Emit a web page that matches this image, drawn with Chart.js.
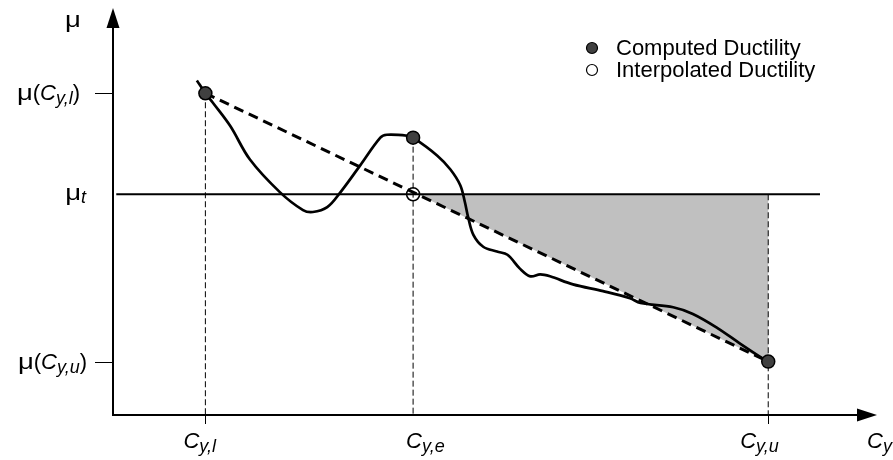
<!DOCTYPE html>
<html>
<head>
<meta charset="utf-8">
<script src="https://cdn.jsdelivr.net/npm/chart.js@4.4.1/dist/chart.umd.min.js"></script>
<style>
  html, body { margin: 0; padding: 0; background: #fff; }
</style>
</head>
<body>
<canvas id="chart" width="893" height="460"></canvas>
<script>
// key abscissas (yield strength) and ordinates (ductility)
const cyL = 1.41, cyE = 4.58, cyU = 10;
const muL = 10, muE = 8.62, muT = 6.86, muU = 1.66;

// ductility curve
const curveX = [1.28, 1.41, 1.53, 1.79, 2.09, 2.55, 2.90, 3.05, 3.27, 3.47, 3.77, 4.08, 4.18, 4.49, 4.58,
    4.95, 5.15, 5.30, 5.37, 5.42, 5.50, 5.65, 5.86, 6.02, 6.21, 6.37, 6.52, 6.67, 7.02, 7.48, 7.89,
    8.05, 8.55, 8.85, 9.22, 9.57, 9.92, 10];
const curveY = [10.40, 10.0, 9.69, 8.98, 7.94, 6.92, 6.37, 6.31, 6.46, 6.92, 7.75, 8.62, 8.71, 8.68, 8.62,
    8.06, 7.63, 7.14, 6.62, 6.15, 5.60, 5.23, 5.08, 4.98, 4.55, 4.31, 4.37, 4.31, 4.06, 3.85, 3.63,
    3.48, 3.35, 3.14, 2.71, 2.22, 1.75, muU];

const computedX = [cyL, cyE, cyU];
const computedY = [muL, muE, muU];
const targetStart = 0.05, targetEnd = 10.79;

const pts = (xs, ys) => xs.map((x, i) => ({ x: x, y: ys[i] }));

// where the dashed chord meets the target ductility
const slope = (muU - muL) / (cyU - cyL);
const xCross = cyL + (muT - muL) / slope;

const FONT = '"Liberation Sans", Arial, sans-serif';
const font = (size, italic) => (italic ? 'italic ' : '') + size + 'px ' + FONT;

// parts: [text, italic, size, dy, scaleX]
function drawRich(ctx, parts, x, y, align) {
    const widths = parts.map(p => {
        ctx.font = font(p[2], p[1]);
        return ctx.measureText(p[0]).width * (p[4] || 1);
    });
    const w = widths.reduce((a, b) => a + b, 0);
    let cx = align === 'right' ? x - w : x;
    parts.forEach((p, i) => {
        ctx.font = font(p[2], p[1]);
        ctx.save();
        ctx.translate(cx, y + (p[3] || 0));
        ctx.scale(p[4] || 1, 1);
        ctx.fillText(p[0], 0, 0);
        ctx.restore();
        cx += widths[i];
    });
}

const MU = ['μ', false, 22, 0, 1.25];

const axesPlugin = {
    id: 'sketchAxes',
    afterDraw(chart) {
        const ctx = chart.ctx;
        const xs = chart.scales.x, ys = chart.scales.y;
        const ox = chart.chartArea.left, oy = chart.chartArea.bottom;
        const top = chart.chartArea.top, right = chart.chartArea.right;
        ctx.save();
        ctx.strokeStyle = '#000';
        ctx.fillStyle = '#000';

        // axes with arrow heads
        ctx.lineWidth = 2;
        ctx.beginPath();
        ctx.moveTo(ox, top + 20);
        ctx.lineTo(ox, oy);
        ctx.lineTo(right - 20, oy);
        ctx.stroke();
        ctx.beginPath();
        ctx.moveTo(ox, top);
        ctx.lineTo(ox - 6.5, top + 20);
        ctx.lineTo(ox + 6.5, top + 20);
        ctx.closePath();
        ctx.fill();
        ctx.beginPath();
        ctx.moveTo(right, oy);
        ctx.lineTo(right - 20, oy - 6.5);
        ctx.lineTo(right - 20, oy + 6.5);
        ctx.closePath();
        ctx.fill();

        // tick marks
        ctx.lineWidth = 1;
        ctx.beginPath();
        [muL, muU].forEach(v => {
            const py = Math.round(ys.getPixelForValue(v)) + 0.5;
            ctx.moveTo(ox - 18, py);
            ctx.lineTo(ox, py);
        });
        [cyL, cyU].forEach(v => {
            const px = Math.round(xs.getPixelForValue(v)) + 0.5;
            ctx.moveTo(px, oy);
            ctx.lineTo(px, oy + 9);
        });
        ctx.stroke();

        // labels
        ctx.textBaseline = 'alphabetic';
        drawRich(ctx, [MU], ox - 48, top + 19, 'left');
        drawRich(ctx, [MU, ['(', false, 22], ['C', true, 22], ['y,l', true, 18, 4], [')', false, 22]],
            ox - 33, ys.getPixelForValue(muL) + 7, 'right');
        drawRich(ctx, [MU, ['t', true, 18, 3]],
            ox - 27, ys.getPixelForValue(muT) + 6, 'right');
        drawRich(ctx, [MU, ['(', false, 22], ['C', true, 22], ['y,u', true, 18, 4], [')', false, 22]],
            ox - 26, ys.getPixelForValue(muU) + 7, 'right');

        const lx = oy + 33;
        drawRich(ctx, [['C', true, 22], ['y,l', true, 18, 4]], xs.getPixelForValue(cyL) - 22, lx, 'left');
        drawRich(ctx, [['C', true, 22], ['y,e', true, 18, 4]], xs.getPixelForValue(cyE) - 7, lx, 'left');
        drawRich(ctx, [['C', true, 22], ['y,u', true, 18, 4]], xs.getPixelForValue(cyU) - 28, lx, 'left');
        drawRich(ctx, [['C', true, 22], ['y', true, 18, 4]], right - 10, lx, 'left');

        // legend
        const legend = [['Computed Ductility', '#404040'], ['Interpolated Ductility', '#ffffff']];
        legend.forEach((item, i) => {
            const cy = 48 + i * 22;
            ctx.beginPath();
            ctx.arc(592, cy, 5.5, 0, Math.PI * 2);
            ctx.fillStyle = item[1];
            ctx.fill();
            ctx.lineWidth = 1.2;
            ctx.strokeStyle = '#000';
            ctx.stroke();
            ctx.fillStyle = '#000';
            ctx.font = font(22, false);
            ctx.fillText(item[0], 616, cy + 7);
        });
        ctx.restore();
    }
};

const lineSet = (data, extra) => Object.assign({
    data: data, showLine: true, pointRadius: 0, borderColor: '#000',
    borderWidth: 1, fill: false, tension: 0
}, extra);

new Chart(document.getElementById('chart'), {
    type: 'scatter',
    data: {
        datasets: [
            // computed ductility points
            { data: pts(computedX, computedY), pointRadius: 6.5, pointBackgroundColor: '#404040',
              pointBorderColor: '#000', pointBorderWidth: 1.5, order: 1 },
            // ductility curve
            lineSet(pts(curveX, curveY), { borderWidth: 2.7, tension: 0.35, order: 2 }),
            // linear interpolation chord
            lineSet(pts([cyL, cyU], [muL, muU]), { borderWidth: 3, borderDash: [10, 6], order: 3 }),
            // target ductility
            lineSet(pts([targetStart, targetEnd], [muT, muT]), { borderWidth: 2, order: 4 }),
            // dashed drop lines
            lineSet(pts([cyL, cyL], [muL, 0]), { borderDash: [6, 3], order: 5 }),
            lineSet(pts([cyE, cyE], [muE, 0]), { borderDash: [6, 3], order: 5 }),
            lineSet(pts([cyU, cyU], [muT, 0]), { borderDash: [6, 3], order: 5 }),
            // interpolated point
            { data: pts([cyE], [muT]), pointRadius: 6.5, pointBackgroundColor: '#fff',
              pointBorderColor: '#000', pointBorderWidth: 1.5, order: 6 },
            // shaded region
            lineSet(pts([xCross, cyU, cyU, xCross], [muT, muT, muU, muT]),
                { borderWidth: 0, borderColor: 'rgba(0,0,0,0)', backgroundColor: '#c0c0c0', fill: 'shape', order: 9 })
        ]
    },
    options: {
        responsive: false,
        animation: false,
        layout: { padding: { left: 113, right: 16, top: 4, bottom: 45 } },
        plugins: { legend: { display: false }, tooltip: { enabled: false } },
        scales: {
            x: { type: 'linear', display: false, min: 0, max: 11.66 },
            y: { type: 'linear', display: false, min: 0, max: 12.65 }
        }
    },
    plugins: [axesPlugin]
});
</script>
</body>
</html>
